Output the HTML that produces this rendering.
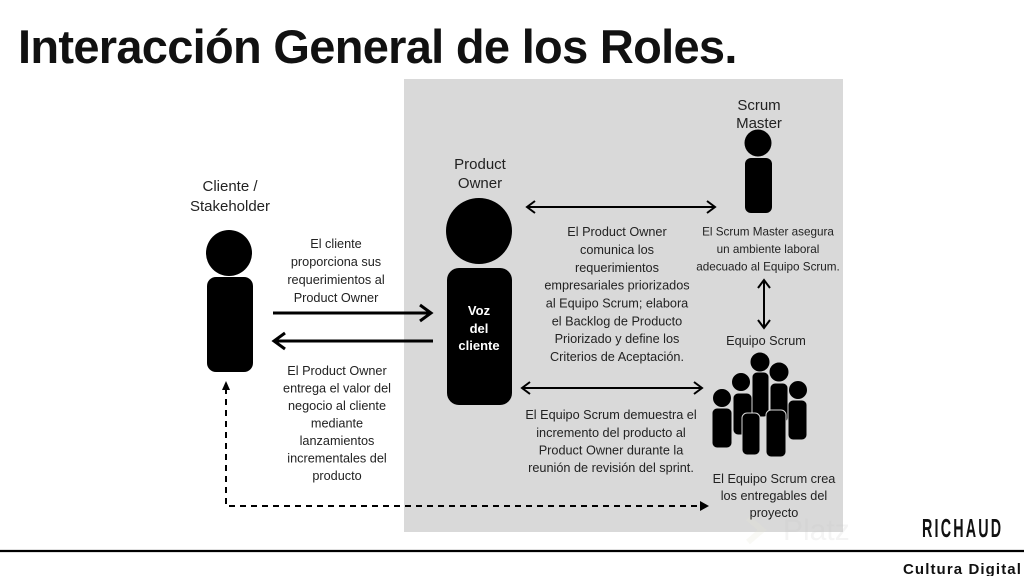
<!DOCTYPE html>
<html><head><meta charset="utf-8"><style>
html,body{margin:0;padding:0;background:#fff;}
body{width:1024px;height:576px;overflow:hidden;position:relative;}
svg{position:absolute;left:0;top:0;}
.t{font-family:"Liberation Sans",Arial,sans-serif;font-size:12.7px;fill:#222;text-anchor:middle;}
.s{font-family:"Liberation Sans",Arial,sans-serif;font-size:11.7px;fill:#222;text-anchor:middle;}
.l{font-family:"Liberation Sans",Arial,sans-serif;font-size:15px;fill:#222;text-anchor:middle;}
</style></head><body>
<svg width="1024" height="576" viewBox="0 0 1024 576" xmlns="http://www.w3.org/2000/svg">
<!-- title -->
<text x="18" y="63" font-family="Liberation Sans, Arial, sans-serif" font-weight="bold" font-size="47" letter-spacing="-0.7" fill="#111">Interacción General de los Roles.</text>

<!-- grey box -->
<rect x="404" y="79" width="439" height="453" fill="#d9d9d9"/>

<!-- platz watermark -->
<text x="783" y="540" font-family="Liberation Sans, Arial, sans-serif" font-size="30" fill="#c8c8c8" fill-opacity="0.2">Platz</text>
<path d="M748,518 L762,530 L748,542" fill="none" stroke="#e6e8d6" stroke-width="6" stroke-opacity="0.25"/>

<!-- Cliente -->
<text class="l" x="230" y="191">Cliente /</text>
<text class="l" x="230" y="211">Stakeholder</text>
<circle cx="229" cy="253" r="23" fill="#000"/>
<rect x="207" y="277" width="46" height="95" rx="9" fill="#000"/>

<!-- left texts -->
<text class="t" x="336" y="248">El cliente</text>
<text class="t" x="336" y="266">proporciona sus</text>
<text class="t" x="336" y="284">requerimientos al</text>
<text class="t" x="336" y="302">Product Owner</text>

<text class="t" x="337" y="375">El Product Owner</text>
<text class="t" x="337" y="392.5">entrega el valor del</text>
<text class="t" x="337" y="410">negocio al cliente</text>
<text class="t" x="337" y="427.5">mediante</text>
<text class="t" x="337" y="445">lanzamientos</text>
<text class="t" x="337" y="462.5">incrementales del</text>
<text class="t" x="337" y="480">producto</text>

<!-- cliente <-> PO arrows -->
<line x1="273" y1="313" x2="430" y2="313" stroke="#000" stroke-width="3"/>
<polyline points="420,305 431,313 420,321" fill="none" stroke="#000" stroke-width="3"/>
<line x1="275" y1="341" x2="433" y2="341" stroke="#000" stroke-width="3"/>
<polyline points="285,333 274,341 285,349" fill="none" stroke="#000" stroke-width="3"/>

<!-- dashed -->
<path d="M226,388 V506 H702" fill="none" stroke="#000" stroke-width="2" stroke-dasharray="6,5"/>
<polygon points="222,390 226,381 230,390" fill="#000"/>
<polygon points="700,501 709,506 700,511" fill="#000"/>

<!-- Product Owner -->
<text class="l" x="480" y="169">Product</text>
<text class="l" x="480" y="188">Owner</text>
<circle cx="479" cy="231" r="33" fill="#000"/>
<rect x="447" y="268" width="65" height="137" rx="12" fill="#000"/>
<g font-family="Liberation Sans, Arial, sans-serif" font-weight="bold" font-size="13" fill="#fff" text-anchor="middle">
<text x="479" y="315">Voz</text>
<text x="479" y="333">del</text>
<text x="479" y="350">cliente</text>
</g>

<!-- PO <-> SM arrow -->
<line x1="528" y1="207" x2="714" y2="207" stroke="#000" stroke-width="2"/>
<polyline points="535,201 527,207 535,213" fill="none" stroke="#000" stroke-width="2"/>
<polyline points="707,201 715,207 707,213" fill="none" stroke="#000" stroke-width="2"/>

<!-- middle text -->
<text class="t" x="617" y="236">El Product Owner</text>
<text class="t" x="617" y="254">comunica los</text>
<text class="t" x="617" y="272">requerimientos</text>
<text class="t" x="617" y="289.5">empresariales priorizados</text>
<text class="t" x="617" y="307.5">al Equipo Scrum; elabora</text>
<text class="t" x="617" y="325.5">el Backlog de Producto</text>
<text class="t" x="617" y="343">Priorizado y define los</text>
<text class="t" x="617" y="361">Criterios de Aceptación.</text>

<!-- Scrum Master -->
<text class="l" x="759" y="110">Scrum</text>
<text class="l" x="759" y="128">Master</text>
<circle cx="758" cy="143" r="13.5" fill="#000"/>
<rect x="745" y="158" width="27" height="55" rx="6" fill="#000"/>

<text class="s" x="768" y="235.5">El Scrum Master asegura</text>
<text class="s" x="768" y="253">un ambiente laboral</text>
<text class="s" x="768" y="270.5">adecuado al Equipo Scrum.</text>

<!-- vertical arrow -->
<line x1="764" y1="281" x2="764" y2="327" stroke="#000" stroke-width="2"/>
<polyline points="758,288 764,280 770,288" fill="none" stroke="#000" stroke-width="2"/>
<polyline points="758,320 764,328 770,320" fill="none" stroke="#000" stroke-width="2"/>

<text class="t" x="766" y="345">Equipo Scrum</text>

<!-- team icon -->
<g fill="#000" stroke="#d9d9d9" stroke-width="1">
<rect x="788" y="400" width="19" height="40" rx="5"/>
<circle cx="798" cy="390" r="9.5"/>
<rect x="752" y="372" width="17" height="45" rx="5"/>
<circle cx="760" cy="362" r="10"/>
<rect x="770" y="383" width="18" height="40" rx="5"/>
<circle cx="779" cy="372" r="10"/>
<rect x="733" y="393" width="19" height="42" rx="5"/>
<circle cx="741" cy="382" r="9.5"/>
<rect x="712" y="408" width="20" height="40" rx="5"/>
<circle cx="722" cy="398" r="9.5"/>
<rect x="742" y="413" width="18" height="42" rx="5"/>
<rect x="766" y="410" width="20" height="47" rx="5"/>
</g>

<!-- bottom PO <-> team arrow -->
<line x1="523" y1="388" x2="701" y2="388" stroke="#000" stroke-width="2"/>
<polyline points="530,382 522,388 530,394" fill="none" stroke="#000" stroke-width="2"/>
<polyline points="694,382 702,388 694,394" fill="none" stroke="#000" stroke-width="2"/>

<text class="t" x="611" y="419">El Equipo Scrum demuestra el</text>
<text class="t" x="611" y="437">incremento del producto al</text>
<text class="t" x="611" y="454.5">Product Owner durante la</text>
<text class="t" x="611" y="472">reunión de revisión del sprint.</text>

<text class="t" x="774" y="483">El Equipo Scrum crea</text>
<text class="t" x="774" y="500">los entregables del</text>
<text class="t" x="774" y="517">proyecto</text>

<!-- footer -->
<line x1="0" y1="551" x2="1024" y2="551" stroke="#000" stroke-width="2.2"/>
<text x="0" y="0" transform="translate(922,537) scale(0.55,1)" font-family="Liberation Sans, Arial, sans-serif" font-weight="bold" font-size="26" letter-spacing="4" fill="#111">RICHAUD</text>
<text x="903" y="574" font-family="Liberation Sans, Arial, sans-serif" font-weight="bold" font-size="15" letter-spacing="1.1" fill="#111">Cultura Digital</text>
</svg>
</body></html>
